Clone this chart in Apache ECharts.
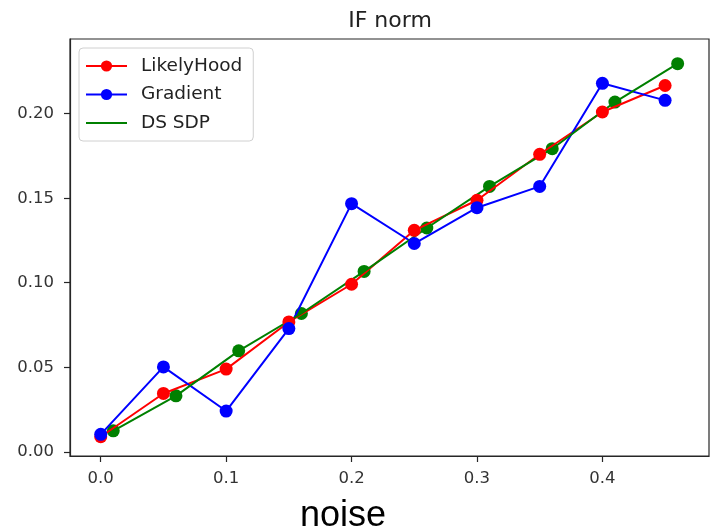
<!DOCTYPE html>
<html>
<head>
<meta charset="utf-8">
<script src="https://cdn.jsdelivr.net/npm/echarts@6/dist/echarts.min.js"></script>
<style>html,body{margin:0;padding:0;background:#fff;}#c{width:711px;height:532px;}</style>
</head>
<body>
<div id="c"></div>
<script>
var noiseX = [0, 0.05, 0.1, 0.15, 0.2, 0.25, 0.3, 0.35, 0.4, 0.45];
var sdpX = [0.01, 0.06, 0.11, 0.16, 0.21, 0.26, 0.31, 0.36, 0.41, 0.46];
var likelyHood = [0.0089, 0.0345, 0.0489, 0.0768, 0.0991, 0.1310, 0.1488, 0.1760, 0.2010, 0.2167];
var gradient = [0.0103, 0.0502, 0.0241, 0.0729, 0.1468, 0.1232, 0.1444, 0.1570, 0.2180, 0.2079];
var dsSdp = [0.0124, 0.0331, 0.0597, 0.0818, 0.1067, 0.1324, 0.1570, 0.1793, 0.2069, 0.2296];
var xTicks = [0, 0.1, 0.2, 0.3, 0.4];
var yTicks = [0, 0.05, 0.10, 0.15, 0.20];
var titleText = 'IF norm';
var xLabel = 'noise';

function pairs(xs, ys) { return xs.map(function (x, i) { return [x, ys[i]]; }); }

var chart = echarts.init(document.getElementById('c'), null, {renderer: 'canvas'});
var axisColor = '#262626';
var font = 'DejaVu Sans';
chart.setOption({
  animation: false,
  backgroundColor: '#fff',
  grid: {left: 70, top: 39, right: 2, bottom: 76, show: true, borderColor: axisColor, borderWidth: 1.2, backgroundColor: '#fff'},
  xAxis: {
    type: 'value', min: -0.0245, max: 0.485,
    axisLine: {show: true, onZero: false, lineStyle: {color: axisColor, width: 1.2}},
    axisTick: {show: true, length: 6, lineStyle: {color: axisColor, width: 1.2}, customValues: xTicks},
    axisLabel: {customValues: xTicks, margin: 14.5, color: '#333', fontFamily: font, fontSize: 16.5, formatter: function (v) { return v.toFixed(1); }},
    splitLine: {show: false}
  },
  yAxis: {
    type: 'value', min: -0.0025, max: 0.2442,
    axisLine: {show: true, onZero: false, lineStyle: {color: axisColor, width: 1.2}},
    axisTick: {show: true, length: 6, lineStyle: {color: axisColor, width: 1.2}, customValues: yTicks},
    axisLabel: {customValues: yTicks, margin: 16, color: '#333', fontFamily: font, fontSize: 16.5, formatter: function (v) { return v.toFixed(2); }},
    splitLine: {show: false}
  },
  legend: {
    orient: 'vertical', left: 79, top: 48,
    data: ['LikelyHood', 'Gradient', {name: 'DS SDP', icon: 'path://M0,0 L41,0 L41,2.2 L0,2.2 Z'}],
    itemWidth: 41, itemHeight: 14, itemGap: 9.5,
    padding: [8.5, 11, 8.5, 6],
    backgroundColor: 'rgba(255,255,255,0.8)', borderColor: '#d0d0d0', borderWidth: 1, borderRadius: 4,
    textStyle: {fontFamily: font, fontSize: 18.5, lineHeight: 18, color: '#222', padding: [0, 0, 0, 9]}
  },
  graphic: [
    {type: 'text', x: 390, y: 21, style: {text: titleText, align: 'center', verticalAlign: 'middle', font: '22px "DejaVu Sans"', fill: '#222'}},
    {type: 'text', x: 343, y: 516, style: {text: xLabel, align: 'center', verticalAlign: 'middle', font: '36px "Liberation Sans"', fill: '#000'}}
  ],
  series: [
    {name: 'LikelyHood', type: 'line', data: pairs(noiseX, likelyHood), symbol: 'circle', symbolSize: 13, showAllSymbol: true,
     lineStyle: {color: '#ff0000', width: 2}, itemStyle: {color: '#ff0000'}},
    {name: 'Gradient', type: 'line', data: pairs(noiseX, gradient), symbol: 'circle', symbolSize: 13, showAllSymbol: true,
     lineStyle: {color: '#0000ff', width: 2}, itemStyle: {color: '#0000ff'}},
    {name: 'DS SDP', type: 'line', data: pairs(sdpX, dsSdp), symbol: 'none',
     lineStyle: {color: '#008000', width: 2}, itemStyle: {color: '#008000'}},
    {name: 'DS SDP markers', type: 'scatter', data: pairs(sdpX, dsSdp), symbol: 'circle', symbolSize: 13,
     itemStyle: {color: '#008000', opacity: 1}}
  ]
});
</script>
</body>
</html>
